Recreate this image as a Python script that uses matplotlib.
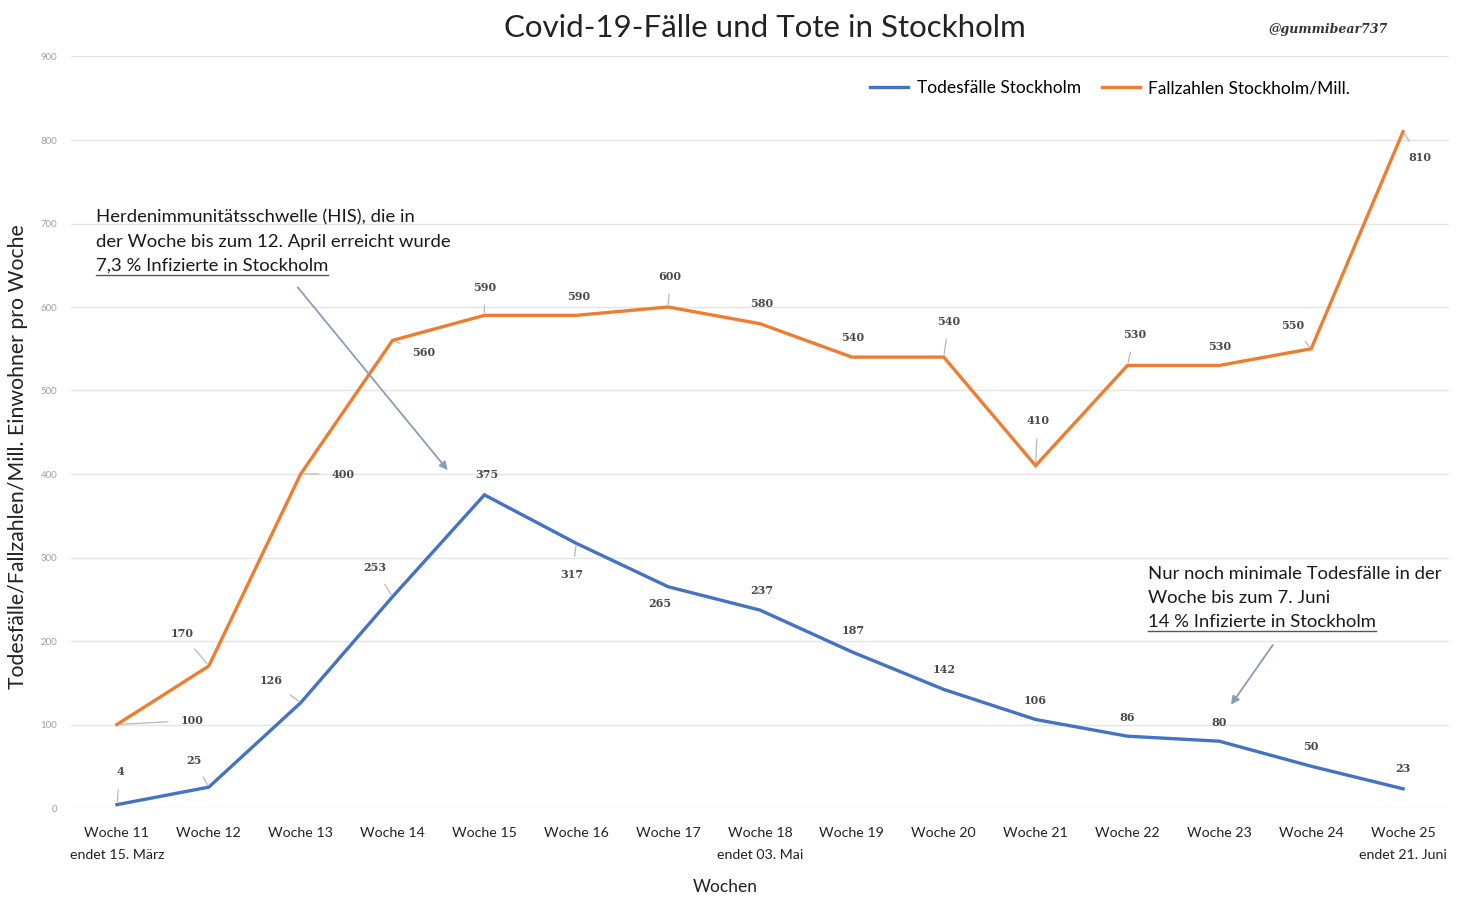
import matplotlib
matplotlib.use('Agg')
import matplotlib.pyplot as plt
from matplotlib.lines import Line2D

plt.rcParams['font.family'] = ['Lato', 'DejaVu Sans']

# weekly numbers for Stockholm
weeks = ['Woche 11', 'Woche 12', 'Woche 13', 'Woche 14', 'Woche 15', 'Woche 16', 'Woche 17', 'Woche 18',
         'Woche 19', 'Woche 20', 'Woche 21', 'Woche 22', 'Woche 23', 'Woche 24', 'Woche 25']
week_notes = {0: 'endet 15. März', 7: 'endet 03. Mai', 14: 'endet 21. Juni'}
deaths = [4, 25, 126, 253, 375, 317, 265, 237, 187, 142, 106, 86, 80, 50, 23]
cases = [100, 170, 400, 560, 590, 590, 600, 580, 540, 540, 410, 530, 530, 550, 810]
yticks = list(range(0, 1000, 100))

# label offsets in pixels (dx, dy), True = draw leader line
death_offsets = [(3, 33, True), (-15, 27, True), (-29, 22, True), (-18, 29, True), (2, 20, False),
                 (-4, -31, True), (-8, -17, False), (2, 20, False), (1, 21, False), (0, 20, False),
                 (0, 19, False), (0, 19, False), (0, 19, False), (0, 20, False), (0, 20, False)]
case_offsets = [(75, 4, True), (-27, 33, True), (42, 0, True), (31, -12, True), (0, 28, True),
                (2, 19, False), (2, 31, True), (2, 20, False), (1, 20, False), (5, 36, True),
                (2, 45, True), (7, 31, True), (0, 19, False), (-19, 23, True), (17, -26, True)]

BLUE = '#4472C4'
ORANGE = '#ED7D31'
W, H = 1459, 897

fig = plt.figure(figsize=(W / 100, H / 100), dpi=100)
ax = fig.add_axes([71 / W, 1 - 808 / H, (1449 - 71) / W, (808 - 56.5) / H])

x = list(range(len(weeks)))
ax.plot(x, deaths, color=BLUE, lw=2.4, label='Todesfälle Stockholm', solid_joinstyle='miter')
ax.plot(x, cases, color=ORANGE, lw=2.4, label='Fallzahlen Stockholm/Mill.', solid_joinstyle='miter')

ax.set_xlim(-0.5, len(weeks) - 0.5)
ax.set_ylim(0, 900)
ax.set_yticks(yticks)
ax.set_yticklabels([str(v) for v in yticks], fontsize=7, color='#a0a0a0')
ax.grid(axis='y', color='#e4e4e4', lw=1)
ax.set_axisbelow(True)
for s in ax.spines.values():
    s.set_visible(False)
ax.tick_params(length=0, pad=10)
ax.tick_params(axis='x', pad=14)
ax.set_xticks(x)
ax.set_xticklabels(weeks, fontsize=10.2, color='#222222')

for i, note in week_notes.items():
    ax.text(i, -0.062, note, transform=ax.get_xaxis_transform(), ha='center', va='center',
            fontsize=10.2, color='#222222')


def value_labels(values, offsets):
    for i, (v, (dx, dy, lead)) in enumerate(zip(values, offsets)):
        arrow = dict(arrowstyle='-', color='#b8b8b8', lw=0.9, shrinkA=7, shrinkB=2) if lead else None
        ax.annotate(str(v), xy=(i, v), xytext=(dx, dy), textcoords='offset pixels',
                    ha='center', va='center', fontsize=8, fontweight='bold', color='#4a4a4a',
                    family=['DejaVu Serif'], arrowprops=arrow)


value_labels(deaths, death_offsets)
value_labels(cases, case_offsets)

fig.text(765 / W, 1 - 28 / H, 'Covid-19-Fälle und Tote in Stockholm', ha='center', va='center',
         fontsize=22.5, color='#222222')
fig.text(1328 / W, 1 - 30 / H, '@gummibear737', ha='center', va='center', fontsize=9,
         fontweight='bold', style='italic', family=['DejaVu Serif'], color='#333333')
fig.text(18 / W, 1 - 457 / H, 'Todesfälle/Fallzahlen/Mill. Einwohner pro Woche', rotation=90,
         ha='center', va='center', fontsize=15.3, color='#222222')
fig.text(725 / W, 1 - 887 / H, 'Wochen', ha='center', va='center', fontsize=12.5, color='#222222')

fig.legend(loc='center', bbox_to_anchor=(1110 / W, 1 - 88 / H), ncol=2, frameon=False,
           fontsize=12.5, handlelength=2.2, columnspacing=1.2, handletextpad=0.5)


def note_block(xp, ys, lines):
    texts = []
    for y, line in zip(ys, lines):
        texts.append(fig.text(xp / W, 1 - y / H, line, ha='left', va='center', fontsize=13.3,
                              color='#1a1a1a'))
    return texts


his = note_block(96, [217, 242, 266], ['Herdenimmunitätsschwelle (HIS), die in',
                                       'der Woche bis zum 12. April erreicht wurde',
                                       '7,3 % Infizierte in Stockholm'])
juni = note_block(1148, [574, 598, 622], ['Nur noch minimale Todesfälle in der',
                                          'Woche bis zum 7. Juni',
                                          '14 % Infizierte in Stockholm'])

# underline the last line of each note
fig.canvas.draw()
r = fig.canvas.get_renderer()
for t in (his[-1], juni[-1]):
    bb = t.get_window_extent(renderer=r).transformed(fig.transFigure.inverted())
    fig.add_artist(Line2D([bb.x0, bb.x1], [bb.y0 - 1 / H, bb.y0 - 1 / H], color='#555555', lw=1))

arrow_style = dict(arrowstyle='-|>', color='#8a9cb8', lw=1.3, mutation_scale=12)
ax.annotate('', xy=(3.62, 402), xytext=(1.95, 626), arrowprops=arrow_style)
ax.annotate('', xy=(12.11, 121), xytext=(12.6, 198), arrowprops=arrow_style)

fig.savefig('out.png', dpi=100, facecolor='white')
